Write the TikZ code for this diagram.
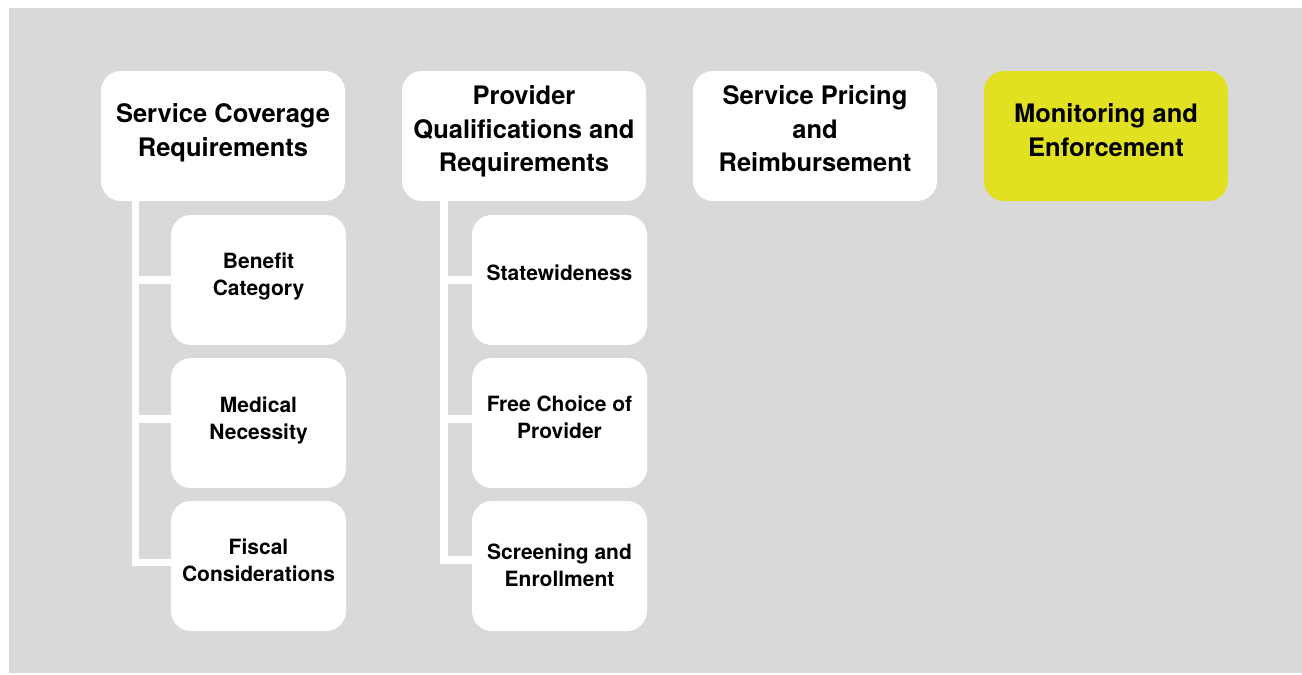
\documentclass[tikz,border=0pt]{standalone}
\usepackage{fontspec}
\setmainfont{TeX Gyre Heros}
\usetikzlibrary{calc}
\definecolor{bggray}{HTML}{D9D9D9}
\definecolor{hilite}{HTML}{E1E121}
\begin{document}
\begin{tikzpicture}[x=1pt,y=-1pt,
  topbox/.style={fill=white, rounded corners=20pt, minimum width=244pt, minimum height=130pt, inner sep=0pt},
  subbox/.style={fill=white, rounded corners=20pt, minimum width=175pt, minimum height=130pt, inner sep=0pt},
  toptext/.style={font=\bfseries\fontsize{25.5}{33.5}\selectfont, align=center, inner sep=0pt},
  subtext/.style={font=\bfseries\fontsize{21}{27}\selectfont, align=center, inner sep=0pt},
  conn/.style={draw=white, line width=7.5pt}]
\useasboundingbox (0,0) rectangle (1302,675);
\fill[white] (0,0) rectangle (1302,675);
\fill[bggray] (9,8) rectangle (1302,673);
% top boxes
\node[topbox] (tb1) at (223,136) {};
\node[topbox] (tb2) at (524,136) {};
\node[topbox] (tb3) at (815,136) {};
\node[topbox, fill=hilite] (tb4) at (1106,136) {};
\node[toptext] (tt1) at (223,133) {Service Coverage\\Requirements};
\node[toptext] (tt2) at (524,131.75) {Provider\\Qualifications and\\Requirements};
\node[toptext] (tt3) at (815,129) {Service Pricing\\and\\Reimbursement};
\node[toptext] (tt4) at (1106,130.3) {Monitoring and\\Enforcement};
% sub boxes column 1
\node[subbox] (a1) at (258.5,280) {};
\node[subbox] (a2) at (258.5,423) {};
\node[subbox] (a3) at (258.5,566) {};
\node[subtext] (at1) at (258.5,276) {Benefit\\Category};
\node[subtext] (at2) at (258.5,420) {Medical\\Necessity};
\node[subtext] (at3) at (258.5,560.75) {Fiscal\\Considerations};
% sub boxes column 2
\node[subbox] (b1) at (559.5,280) {};
\node[subbox] (b2) at (559.5,423) {};
\node[subbox] (b3) at (559.5,566) {};
\node[subtext] (bt1) at (559.5,273.25) {Statewideness};
\node[subtext] (bt2) at (559.5,417.5) {Free Choice of\\Provider};
\node[subtext] (bt3) at (559.5,565.75) {Screening and\\Enrollment};
% connectors
\coordinate (c1) at (135.5,201);
\coordinate (c2) at (444,201);
\draw[conn] (c1) |- ([yshift=3.5pt]a3.west);
\draw[conn] (c1 |- a1.west) -- (a1.west);
\draw[conn] ([yshift=4pt]a2.west -| c1) -- ([yshift=4pt]a2.west);
\draw[conn] (c2) |- ([yshift=6pt]b3.west);
\draw[conn] (c2 |- b1.west) -- (b1.west);
\draw[conn] ([yshift=4pt]b2.west -| c2) -- ([yshift=4pt]b2.west);
\end{tikzpicture}
\end{document}
